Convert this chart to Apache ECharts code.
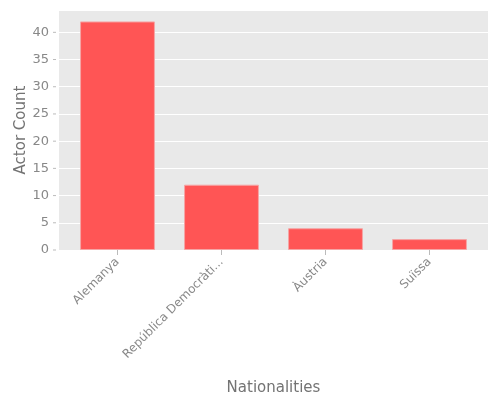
<!DOCTYPE html>
<html><head><meta charset="utf-8">
<script src="https://cdn.jsdelivr.net/npm/echarts@6/dist/echarts.min.js"></script>
<style>html,body{margin:0;padding:0;background:#fff}#c{width:500px;height:400px}</style>
</head><body><div id="c"></div>
<script>
const categories = ["Alemanya", "República Democràtica Alemanya", "Àustria", "Suïssa"];
const actorCounts = [42, 12, 4, 2];
const yTicks = [0, 5, 10, 15, 20, 25, 30, 35, 40];
const yMax = 44.1;

const chart = echarts.init(document.getElementById('c'));
chart.setOption({
  animation: false,
  textStyle: {fontFamily: 'DejaVu Sans'},
  grid: [
    {left: 59, right: 12, top: 10, bottom: 150, show: true, backgroundColor: '#e9e9e9', borderWidth: 0, outerBoundsMode: 'none'},
    {left: 65.5, right: 18.5, top: 10, bottom: 150, outerBoundsMode: 'none'}
  ],
  xAxis: [
    {gridIndex: 0, type: 'value', min: 0, max: 1, show: false},
    {
      gridIndex: 1, type: 'category', data: categories,
      name: 'Nationalities', nameLocation: 'middle', nameGap: 131, nameMoveOverlap: false,
      nameTextStyle: {color: '#737373', fontSize: 15},
      axisLine: {show: false},
      axisTick: {show: true, alignWithLabel: true, length: 5, lineStyle: {color: '#bbb'}},
      axisLabel: {rotate: 45, color: '#888', fontSize: 12, margin: 10,
        formatter: v => v.length > 20 ? v.slice(0, 19) + '...' : v},
      splitLine: {show: false}
    }
  ],
  yAxis: [
    {
      gridIndex: 0, type: 'value', min: 0, max: yMax, interval: 5,
      name: 'Actor Count', nameLocation: 'middle', nameGap: 30, nameMoveOverlap: false,
      nameTextStyle: {color: '#737373', fontSize: 15},
      axisLine: {show: false},
      axisTick: {show: false},
      axisLabel: {color: '#888', fontSize: 13, margin: 10,
        formatter: v => yTicks.includes(v) ? String(v) : ''},
      splitLine: {show: true, lineStyle: {color: '#fff', width: 1}}
    },
    {gridIndex: 1, type: 'value', min: 0, max: yMax, interval: 5, show: false}
  ],
  series: [
    {
      type: 'custom', xAxisIndex: 0, yAxisIndex: 0, silent: true,
      data: yTicks.map(v => [0, v]),
      renderItem: (params, api) => {
        const p = api.coord([0, api.value(1)]);
        return {type: 'line', shape: {x1: p[0] - 6, y1: p[1], x2: p[0] - 3, y2: p[1]},
          style: {stroke: '#bbb', lineWidth: 1}};
      }
    },
    {
      type: 'bar', xAxisIndex: 1, yAxisIndex: 1, data: actorCounts, barWidth: '72%',
      itemStyle: {color: '#ff5555', borderColor: '#f5a5a5', borderWidth: 1}
    }
  ]
});
</script></body></html>
